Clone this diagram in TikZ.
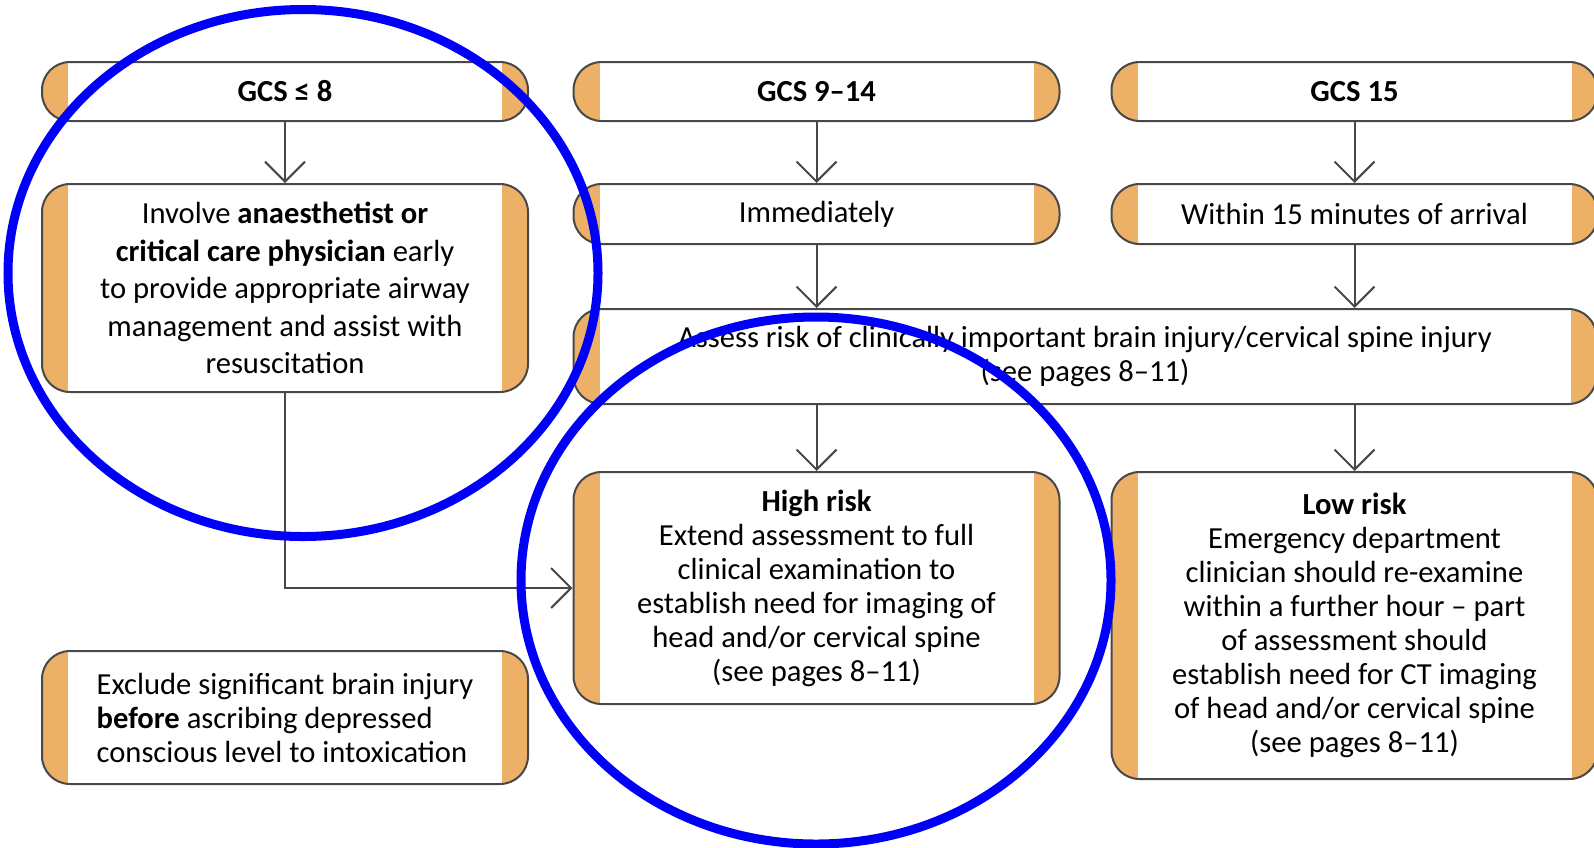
\documentclass[tikz,border=0pt]{standalone}
\usepackage{fontspec}
\setmainfont{Carlito}
\usetikzlibrary{arrows.meta,positioning,calc}
\definecolor{Band}{RGB}{236,176,102}
\definecolor{Frame}{RGB}{72,72,72}
\definecolor{Ring}{RGB}{0,0,250}

\begin{document}
\begin{tikzpicture}[x=0.5pt,y=-0.5pt,line width=1pt,
	every node/.style={font=\fontsize{15.3}{17}\selectfont},
	flowbox/.style 2 args = {rectangle, rounded corners=14pt, draw=Frame, fill=white,
	                         minimum width=#1, minimum height=#2, inner sep=0pt, align=center,
	                         path picture={
	                           \fill[Band,sharp corners] (path picture bounding box.south west)
	                                rectangle ([xshift=13pt]path picture bounding box.north west);
	                           \fill[Band,sharp corners] (path picture bounding box.south east)
	                                rectangle ([xshift=-13pt]path picture bounding box.north east);}},
	head/.style = {font=\fontsize{15.3}{17}\selectfont\bfseries},
	arr/.style = {draw=Frame, -{Straight Barb[length=10pt,width=20pt,line width=1pt]}},
	ring/.style = {draw=Ring, line width=4.5pt}]
	\useasboundingbox (0,0) rectangle (1594,847);

	%% GCS groups
	\node [flowbox={243pt}{29.5pt},head] (gcsA) at (285,91.5) {GCS ≤ 8};
	\node [flowbox={243pt}{29.5pt},head] (gcsB) at (816.5,91.5) {GCS 9–14};
	\node [flowbox={243pt}{29.5pt},head] (gcsC) at (1354.5,91.5) {GCS 15};

	%% When to act
	\node [flowbox={243pt}{104pt},below=30.5pt of gcsA,font=\fontsize{15.3}{18.7}\selectfont] (involve)
	      {Involve \textbf{anaesthetist or}\\\textbf{critical care physician} early\\
	       to provide appropriate airway\\management and assist with\\resuscitation};
	\node [flowbox={243pt}{30pt},below=30.5pt of gcsB] (immed) {Immediately};
	\node [flowbox={243pt}{30pt},below=30.5pt of gcsC] (within) {Within 15 minutes of arrival};

	%% Assessment
	\node [flowbox={511.5pt}{47.5pt},anchor=north west] (assess) at ([yshift=-31.5pt]immed.south west)
	      {Assess risk of clinically important brain injury/cervical spine injury\\(see pages 8–11)};
	\node [flowbox={243pt}{116pt},anchor=north] (high) at ([yshift=-33pt]assess.south -| immed.south)
	      {\textbf{High risk}\\Extend assessment to full\\clinical examination to\\
	       establish need for imaging of\\head and/or cervical spine\\(see pages 8–11)};
	\node [flowbox={243pt}{153.5pt},anchor=north] (low) at ([yshift=-33pt]assess.south -| within.south)
	      {\textbf{Low risk}\\Emergency department\\clinician should re-examine\\
	       within a further hour – part\\of assessment should\\establish need for CT imaging\\
	       of head and/or cervical spine\\(see pages 8–11)};
	\node [flowbox={243pt}{66.5pt},below=128.5pt of involve,align=left] (exclude)
	      {Exclude significant brain injury\\\textbf{before} ascribing depressed\\
	       conscious level to intoxication};

	%% Arrows
	\draw[arr] (gcsA) -- (involve);
	\draw[arr] (gcsB) -- (immed);
	\draw[arr] (gcsC) -- (within);
	\draw[arr] (immed) -- (immed |- assess.north);
	\draw[arr] (within) -- (within |- assess.north);
	\draw[arr] (assess.south -| high) -- (high);
	\draw[arr] (assess.south -| low) -- (low);
	\draw[arr] (involve.south) |- (high.west);

	%% Marked areas
	\draw[ring] (303,273) ellipse [x radius=147.5pt, y radius=131.75pt];
	\draw[ring] (816,580.5) ellipse [x radius=147.5pt, y radius=131.75pt];
\end{tikzpicture}
\end{document}
